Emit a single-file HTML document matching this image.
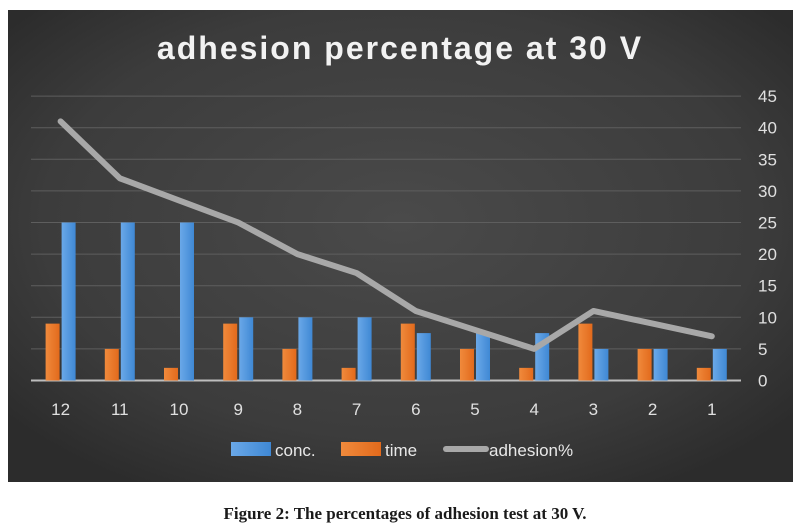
<!DOCTYPE html>
<html><head><meta charset="utf-8"><style>
body{margin:0;width:803px;height:526px;background:#fff;overflow:hidden}
svg{display:block}
</style></head><body>
<svg width="803" height="526">
<defs>
<radialGradient id="bg" cx="50%" cy="45%" r="65%">
<stop offset="0" stop-color="#4a4a4a"/><stop offset="0.7" stop-color="#3c3c3c"/><stop offset="1" stop-color="#2c2c2c"/>
</radialGradient>
<linearGradient id="bl" x1="0" x2="1"><stop offset="0" stop-color="#6aa8e8"/><stop offset="1" stop-color="#3f88d4"/></linearGradient>
<linearGradient id="or" x1="0" x2="1"><stop offset="0" stop-color="#f08a3c"/><stop offset="1" stop-color="#e26a1c"/></linearGradient>
</defs>
<rect x="8" y="10" width="785" height="472" fill="url(#bg)"/>
<text x="400" y="59" text-anchor="middle" fill="#f2f2f2" font-family="Liberation Sans, sans-serif" font-weight="bold" font-size="32" letter-spacing="2">adhesion percentage at 30 V</text>
<g id="grid"></g><g id="bars"></g><g id="line"></g><g id="labels"></g>
<g font-family="Liberation Sans, sans-serif" font-size="17" fill="#e8e8e8">
<rect x="231" y="442" width="40" height="14" fill="url(#bl)"/>
<text x="275" y="456">conc.</text>
<rect x="341" y="442" width="40" height="14" fill="url(#or)"/>
<text x="385" y="456">time</text>
<line x1="446" y1="449" x2="486" y2="449" stroke="#a8a8a8" stroke-width="6" stroke-linecap="round"/>
<text x="489" y="456">adhesion%</text>
</g>
<text x="405" y="519" text-anchor="middle" fill="#1a1a1a" font-family="Liberation Serif, serif" font-weight="bold" font-size="17">Figure 2: The percentages of adhesion test at 30 V.</text>
</svg>
<script>
const categories=["12","11","10","9","8","7","6","5","4","3","2","1"];
const conc=[25,25,25,10,10,10,7.5,7.5,7.5,5,5,5];
const time=[9,5,2,9,5,2,9,5,2,9,5,2];
const adhesion=[41,32,28.5,25,20,17,11,8,5,11,9,7];
const yTicks=[0,5,10,15,20,25,30,35,40,45];
const NS='http://www.w3.org/2000/svg';
const x0=31,step=59.2,y0=380.5,yk=6.32;
const xC=i=>x0+step*(i+0.5);
const y=v=>y0-v*yk;
function mk(t,a,p){const e=document.createElementNS(NS,t);for(const k in a)e.setAttribute(k,a[k]);document.getElementById(p).appendChild(e);return e;}
yTicks.forEach(v=>{
 if(v>0){const g=mk('line',{x1:x0,x2:741,y1:y(v),y2:y(v),stroke:'#5e5e5e','stroke-width':1},'grid');
 
 }
 const t=mk('text',{x:758,y:y(v)+6,fill:'#e0e0e0','font-family':'Liberation Sans, sans-serif','font-size':17},'labels');
 t.textContent=v;
 
 
});
const ax=mk('line',{x1:x0,x2:741,y1:y0,y2:y0,stroke:'#bdbdbd','stroke-width':2},'grid');


categories.forEach((c,i)=>{
 const o=mk('rect',{x:xC(i)-15,y:y(time[i]),width:14,height:time[i]*yk,fill:'url(#or)'},'bars');
 
 
 const b=mk('rect',{x:xC(i)+1,y:y(conc[i]),width:14,height:conc[i]*yk,fill:'url(#bl)'},'bars');
 
 
 const t=mk('text',{x:xC(i),y:415,'text-anchor':'middle',fill:'#e0e0e0','font-family':'Liberation Sans, sans-serif','font-size':17},'labels');
 t.textContent=c;
 
 
});
const pl=mk('polyline',{points:adhesion.map((v,i)=>xC(i)+','+y(v)).join(' '),fill:'none',stroke:'#a8a8a8','stroke-width':6,'stroke-linecap':'round','stroke-linejoin':'round'},'line');


</script>
</body></html>
